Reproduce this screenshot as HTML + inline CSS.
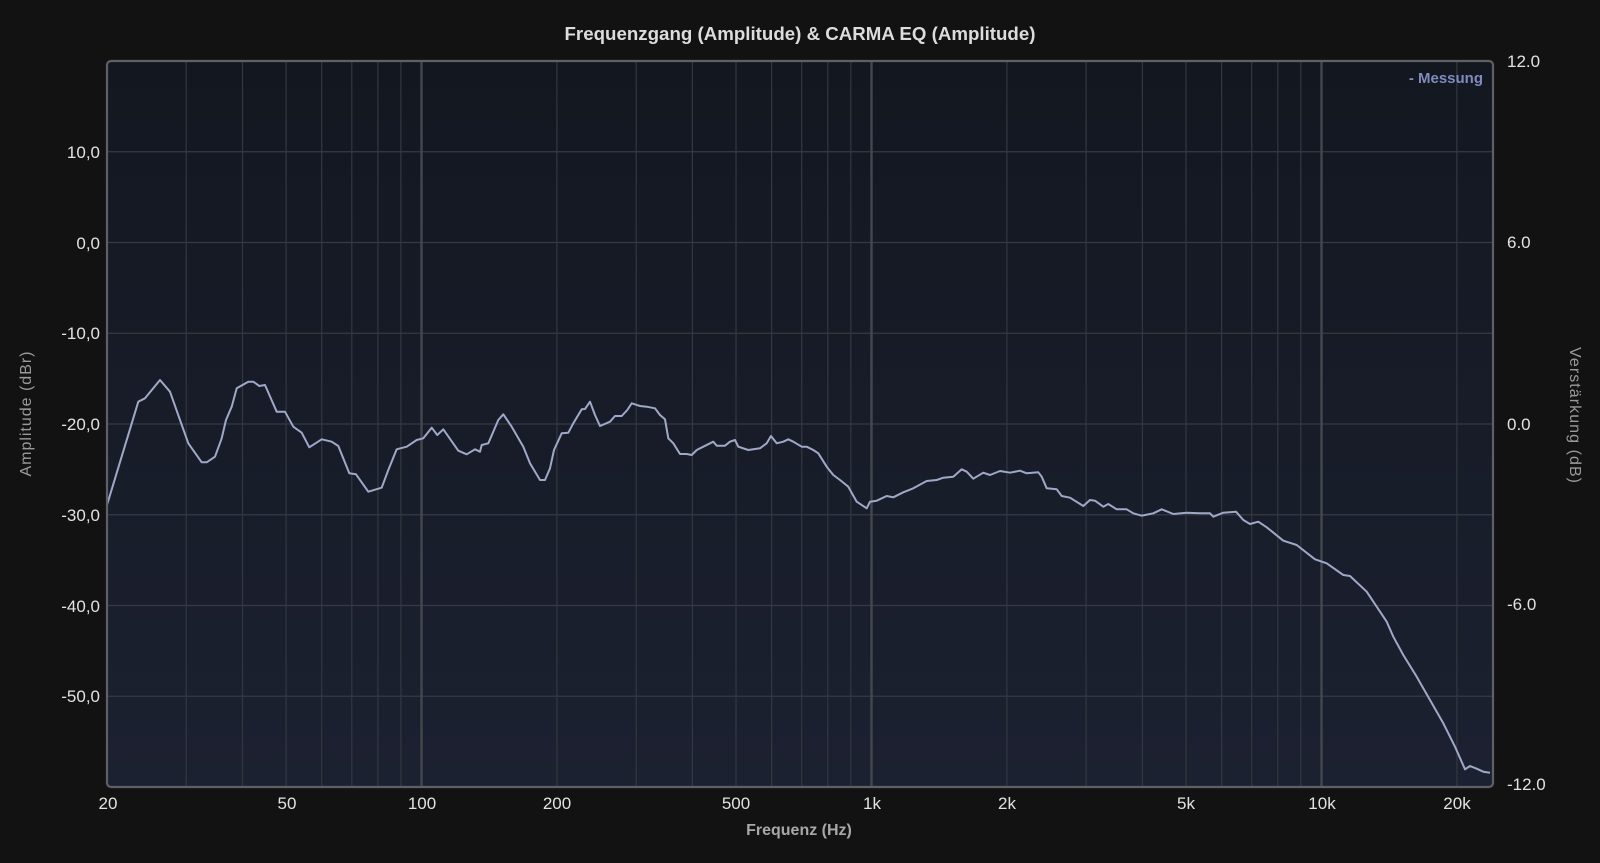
<!DOCTYPE html>
<html>
<head>
<meta charset="utf-8">
<style>
  html,body{margin:0;padding:0;background:#121212;}
  svg{display:block;}
  text{font-family:"Liberation Sans",Arial,sans-serif;}
</style>
</head>
<body>
<svg width="1600" height="863" viewBox="0 0 1600 863" xmlns="http://www.w3.org/2000/svg">
  <defs>
    <linearGradient id="bg" x1="0" y1="0" x2="0" y2="1">
      <stop offset="0" stop-color="#131720"/>
      <stop offset="1" stop-color="#1c2131"/>
    </linearGradient>
    <clipPath id="clip"><rect x="107" y="61" width="1386" height="726"/></clipPath>
  </defs>
  <rect x="0" y="0" width="1600" height="863" fill="#121212"/>

  <!-- Title -->
  <text x="800" y="40" text-anchor="middle" font-size="18.5" font-weight="bold" fill="#dcdcdc" textLength="471" lengthAdjust="spacingAndGlyphs">Frequenzgang (Amplitude) &amp; CARMA EQ (Amplitude)</text>

  <!-- Plot area -->
  <rect x="107" y="61" width="1386" height="726" rx="4" fill="url(#bg)"/>

  <g clip-path="url(#clip)">
    <!-- horizontal grid -->
    <g stroke="#363a43" stroke-width="1.2">
      <line x1="107" x2="1493" y1="151.75" y2="151.75"/>
      <line x1="107" x2="1493" y1="242.5" y2="242.5"/>
      <line x1="107" x2="1493" y1="333.25" y2="333.25"/>
      <line x1="107" x2="1493" y1="424" y2="424"/>
      <line x1="107" x2="1493" y1="514.75" y2="514.75"/>
      <line x1="107" x2="1493" y1="605.5" y2="605.5"/>
      <line x1="107" x2="1493" y1="696.25" y2="696.25"/>
    </g>
    <!-- vertical minor grid -->
    <g stroke="#34373f" stroke-width="1.2">
      <line x1="186.2" x2="186.2" y1="61" y2="787"/>
      <line x1="242.5" x2="242.5" y1="61" y2="787"/>
      <line x1="286.1" x2="286.1" y1="61" y2="787"/>
      <line x1="321.7" x2="321.7" y1="61" y2="787"/>
      <line x1="351.8" x2="351.8" y1="61" y2="787"/>
      <line x1="377.9" x2="377.9" y1="61" y2="787"/>
      <line x1="400.9" x2="400.9" y1="61" y2="787"/>
      <line x1="556.9" x2="556.9" y1="61" y2="787"/>
      <line x1="636.2" x2="636.2" y1="61" y2="787"/>
      <line x1="692.4" x2="692.4" y1="61" y2="787"/>
      <line x1="736.0" x2="736.0" y1="61" y2="787"/>
      <line x1="771.6" x2="771.6" y1="61" y2="787"/>
      <line x1="801.7" x2="801.7" y1="61" y2="787"/>
      <line x1="827.8" x2="827.8" y1="61" y2="787"/>
      <line x1="850.8" x2="850.8" y1="61" y2="787"/>
      <line x1="1006.9" x2="1006.9" y1="61" y2="787"/>
      <line x1="1086.1" x2="1086.1" y1="61" y2="787"/>
      <line x1="1142.4" x2="1142.4" y1="61" y2="787"/>
      <line x1="1186.0" x2="1186.0" y1="61" y2="787"/>
      <line x1="1221.6" x2="1221.6" y1="61" y2="787"/>
      <line x1="1251.7" x2="1251.7" y1="61" y2="787"/>
      <line x1="1277.8" x2="1277.8" y1="61" y2="787"/>
      <line x1="1300.8" x2="1300.8" y1="61" y2="787"/>
      <line x1="1456.9" x2="1456.9" y1="61" y2="787"/>
    </g>
    <!-- vertical major grid -->
    <g stroke="#45474e" stroke-width="2.4">
      <line x1="421.5" x2="421.5" y1="61" y2="787"/>
      <line x1="871.5" x2="871.5" y1="61" y2="787"/>
      <line x1="1321.5" x2="1321.5" y1="61" y2="787"/>
    </g>

    <!-- curve -->
    <polyline fill="none" stroke="#a0a8c8" stroke-width="2" stroke-linejoin="round" points="107,505 138.3,401.7 145,398.3 160,380 170,391.7 180,420 188.3,443.3 201.7,462.3 206.7,462.3 215,456.7 221.7,438.3 226,420 231.7,406.7 236.7,388.3 248.3,381.7 253.3,381.7 259.3,386 265,385 276.7,411.7 285,411.7 293.3,426.7 301.7,432.7 309.3,447.3 321.7,439.3 331.7,441.7 338.3,446 349.3,473.3 356,474.3 368.3,491.7 381.7,487.7 388.3,470 396.7,449.3 406.7,446.7 416.7,440 423.3,438.3 431.7,427.7 437.3,435 443.3,429.3 458.3,450.7 466.7,454.3 475,449.3 480,451.7 481.7,445 488.3,443.3 498.3,420 503.3,414.3 511.7,426.7 523.3,446.7 530,463.3 540,480 545,480 550,468.3 554,450 561.7,433.3 568.3,432.7 573.3,423.3 581.7,409.3 585,409 590,401.7 595,415 600,426 610,421.7 615,416 621.7,416 627.3,410 631.7,403.3 640,406 646.7,406.7 655,408.3 660,415 665,419.3 668.3,438.3 673.3,443.3 680,454 686.7,454 691.7,455 696.7,450 703.3,446.7 713.3,441.7 716.7,445.7 725,445.7 730,441.7 735,440 738.3,446.7 748.3,450 760,448.3 766.7,443.3 771,436 776.7,443.3 783.3,441.7 788.3,439.3 793.3,441.7 801.7,446.7 806.7,446.7 813.3,450 818.3,453.3 826.7,466.7 833.3,475 840,480 848.3,486.7 856.7,501.7 866.7,508.3 870,501.7 876.7,500.7 886.7,496 893.3,497.3 903.3,492.3 913.3,488.3 926.7,481 936.7,480 943.3,477.7 953.3,476.7 961.7,469.3 966.7,471.7 973.3,478.7 983.3,472.7 990,475 1000,471 1010,472.7 1020,470.7 1026.7,473.3 1038.3,472.3 1041.7,476.7 1046.7,488.3 1056.7,489.3 1061.7,496 1070,497.7 1083.3,506 1090,500 1095,500.7 1103.3,506.7 1108.3,504 1116.7,509.3 1126.7,509.3 1133.3,513.3 1141.7,515.7 1153.3,513.3 1161.7,509.3 1173.3,514 1186.7,512.7 1200,513.3 1210,513.3 1213.3,516.7 1223.3,512.7 1236,511.7 1243.3,520 1250,524 1258.3,521.7 1266.7,527.3 1283.3,540.7 1296.7,545 1315,559.3 1326.7,563.3 1343.3,575 1350,576 1366.7,591.7 1376.7,606.7 1386.7,621.7 1393.3,636.7 1403.3,655 1416.7,676.7 1430,700 1443.3,723.3 1455,746.7 1465,769.3 1470,766 1476.7,768.7 1483.3,771.7 1490,772.7"/>
  </g>

  <!-- plot border -->
  <rect x="107" y="61" width="1386" height="726" rx="4" fill="none" stroke="#5e6066" stroke-width="2.2"/>

  <!-- legend -->
  <text x="1483" y="83" text-anchor="end" font-size="15" font-weight="bold" fill="#7f8bbd">- Messung</text>

  <!-- left y labels -->
  <g font-size="17" fill="#e2e2e2" text-anchor="end">
    <text x="100" y="158">10,0</text>
    <text x="100" y="249">0,0</text>
    <text x="100" y="339">-10,0</text>
    <text x="100" y="430">-20,0</text>
    <text x="100" y="521">-30,0</text>
    <text x="100" y="612">-40,0</text>
    <text x="100" y="702">-50,0</text>
  </g>

  <!-- right y labels -->
  <g font-size="17" fill="#e2e2e2" text-anchor="start">
    <text x="1507" y="67">12.0</text>
    <text x="1507" y="248">6.0</text>
    <text x="1507" y="430">0.0</text>
    <text x="1507" y="610">-6.0</text>
    <text x="1507" y="790">-12.0</text>
  </g>

  <!-- x labels -->
  <g font-size="17" fill="#e2e2e2" text-anchor="middle">
    <text x="108" y="809">20</text>
    <text x="287" y="809">50</text>
    <text x="422" y="809">100</text>
    <text x="557" y="809">200</text>
    <text x="736" y="809">500</text>
    <text x="872" y="809">1k</text>
    <text x="1007" y="809">2k</text>
    <text x="1186" y="809">5k</text>
    <text x="1322" y="809">10k</text>
    <text x="1457" y="809">20k</text>
  </g>

  <!-- axis titles -->
  <text x="799" y="835" text-anchor="middle" font-size="16" font-weight="bold" fill="#a8a8a8">Frequenz (Hz)</text>
  <text transform="translate(31,414) rotate(-90)" text-anchor="middle" font-size="16" fill="#9a9a9a" textLength="125" lengthAdjust="spacing">Amplitude (dBr)</text>
  <text transform="translate(1570,415) rotate(90)" text-anchor="middle" font-size="16" fill="#9a9a9a" textLength="136" lengthAdjust="spacing">Verstärkung (dB)</text>
</svg>
</body>
</html>
